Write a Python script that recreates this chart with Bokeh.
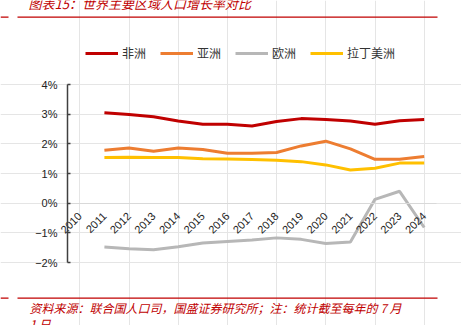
import math
from bokeh.plotting import figure
from bokeh.models import (Range1d, FixedTicker, CustomJSTickFormatter, Legend, LegendItem,
                          Label, BoxAnnotation, LinearAxis)
from bokeh.embed import file_html
from bokeh.resources import INLINE

years = list(range(2010, 2025))
data_years = list(range(2011, 2025))

africa = [3.05, 2.99, 2.91, 2.77, 2.66, 2.66, 2.60, 2.75, 2.85, 2.82, 2.77, 2.66, 2.78, 2.82]
asia = [1.78, 1.86, 1.75, 1.86, 1.81, 1.68, 1.68, 1.71, 1.93, 2.09, 1.83, 1.48, 1.48, 1.57]
europe = [-1.48, -1.54, -1.57, -1.47, -1.34, -1.29, -1.24, -1.17, -1.22, -1.36, -1.31, 0.13, 0.40, -0.82]
latam = [1.54, 1.55, 1.54, 1.54, 1.50, 1.49, 1.47, 1.45, 1.40, 1.29, 1.12, 1.18, 1.35, 1.35]

series_names = ["非洲", "亚洲", "欧洲", "拉丁美洲"]
series_colors = ["#C00000", "#ED7D31", "#B7B7B7", "#FFC000"]
y_ticks = [-2, -1, 0, 1, 2, 3, 4]

title_text = "图表15：世界主要区域人口增长率对比"
source_text = "资料来源：联合国人口司，国盛证券研究所；注：统计截至每年的 7 月"
source_text2 = "1 日"

W, H = 461, 325
# geometry of the plotting area inside the canvas (pixels)
axis_px, right_px, top_px, bottom_px = 67.0, 436.0, 84.0, 262.0
y_lo, y_hi = -2.0, 4.0
x_lo, x_hi = years[0] - 0.5, years[-1] + 0.5
xpp = (right_px - axis_px) / (x_hi - x_lo)
ypp = (bottom_px - top_px) / (y_hi - y_lo)
x_start = x_lo - axis_px / xpp
x_end = x_start + W / xpp
y_end = y_hi + top_px / ypp
y_start = y_lo - (H - bottom_px) / ypp

p = figure(width=W, height=H, x_range=Range1d(x_start, x_end), y_range=Range1d(y_start, y_end),
           output_backend="svg", toolbar_location=None,
           x_axis_location=None, y_axis_location=None,
           min_border=0, min_border_left=0, min_border_right=0, min_border_top=0, min_border_bottom=0)
p.outline_line_color = None
p.background_fill_color = "white"
p.border_fill_color = "white"

renderers = []
for vals, col in zip([africa, asia, europe, latam], series_colors):
    r = p.line(data_years, vals, line_color=col, line_width=3)
    renderers.append(r)

# x axis at zero
xa = LinearAxis(fixed_location=0, bounds=(x_lo, x_hi))
xa.ticker = FixedTicker(ticks=years)
xa.formatter = CustomJSTickFormatter(code="return tick.toFixed(0);")
xa.axis_line_color = "#D9D9D9"
xa.axis_line_width = 1
xa.major_tick_line_color = None
xa.minor_tick_line_color = None
xa.major_label_orientation = math.pi / 4
xa.major_label_text_font = "Liberation Sans"
xa.major_label_text_font_size = "11px"
xa.major_label_text_color = "#222222"
xa.major_label_standoff = 5
p.add_layout(xa, "below")

# y axis
ya = LinearAxis(fixed_location=x_lo, bounds=(y_lo, y_hi))
ya.ticker = FixedTicker(ticks=y_ticks)
ya.formatter = CustomJSTickFormatter(code="return (tick < 0 ? '\u2212' : '') + Math.abs(tick) + '%';")
ya.axis_line_color = "#404040"
ya.axis_line_width = 1.5
ya.major_tick_line_color = "#404040"
ya.major_tick_line_width = 1.5
ya.major_tick_in = 3
ya.major_tick_out = 0
ya.minor_tick_line_color = None
ya.major_label_text_font = "Liberation Sans"
ya.major_label_text_font_size = "11px"
ya.major_label_text_color = "#222222"
ya.major_label_standoff = 10
p.add_layout(ya, "left")

legend = Legend(items=[LegendItem(label=n, renderers=[r]) for n, r in zip(series_names, renderers)],
                orientation="horizontal", location=(85, 264),
                glyph_width=33, glyph_height=12, label_height=12, label_width=10,
                label_standoff=4, spacing=14,
                padding=0, margin=0, border_line_color=None, background_fill_alpha=0,
                label_text_font="Noto Sans CJK SC", label_text_font_size="12px",
                label_text_color="#333333")
p.add_layout(legend, "center")

red = "#C00000"
p.add_layout(Label(x=28, y=3, x_units="canvas", y_units="canvas", text=title_text,
                   text_font="Noto Sans CJK SC", text_font_size="13px", text_font_style="italic",
                   text_color=red, text_baseline="middle"))
p.add_layout(Label(x=29, y=307, x_units="canvas", y_units="canvas", text=source_text,
                   text_font="Noto Sans CJK SC", text_font_size="12px", text_font_style="italic",
                   text_color=red, text_baseline="middle"))
p.add_layout(Label(x=29, y=323, x_units="canvas", y_units="canvas", text=source_text2,
                   text_font="Noto Sans CJK SC", text_font_size="12px", text_font_style="italic",
                   text_color=red, text_baseline="middle"))
for ytop in [16, 297]:
    p.add_layout(BoxAnnotation(left=0, right=8, top=ytop, bottom=ytop + 1.2,
                               left_units="canvas", right_units="canvas",
                               top_units="canvas", bottom_units="canvas",
                               fill_color=red, line_color=None, fill_alpha=1))
    p.add_layout(BoxAnnotation(left=17, right=437, top=ytop, bottom=ytop + 1.2,
                               left_units="canvas", right_units="canvas",
                               top_units="canvas", bottom_units="canvas",
                               fill_color=red, line_color=None, fill_alpha=1))

open("out.html", "w").write(file_html(p, INLINE))
